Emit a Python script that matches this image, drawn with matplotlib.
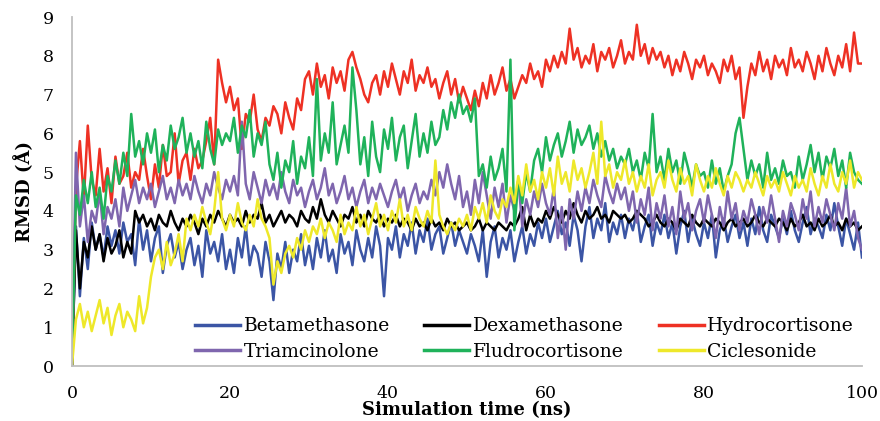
import numpy as np
import matplotlib.pyplot as plt

# simulation time axis (ns), one frame every 0.5 ns
time_ns = np.arange(0, 100.5, 0.5)

betamethasone = [
    0, 3.6, 1.8, 3.3, 2.5, 3.7, 3.0, 3.4, 2.8, 3.6,
    3.1, 3.5, 2.9, 3.7, 3.2, 3.4, 2.6, 3.8, 3.0, 3.5,
    2.7, 3.3, 3.6, 2.4, 3.1, 3.4, 2.8, 3.2, 2.5, 3.0,
    3.3, 2.6, 3.1, 2.3, 3.5, 2.9, 3.2, 2.7, 3.4, 2.5,
    3.0, 2.4, 3.3, 2.8, 3.6, 2.6, 3.1, 2.9, 2.3, 3.2,
    2.7, 1.7, 2.9, 2.5, 3.2, 2.4, 3.0, 2.7, 3.4, 2.6,
    3.1, 2.5, 3.3, 2.8, 3.5, 2.7, 3.0, 2.4, 3.4, 2.9,
    3.2, 2.6, 3.5, 3.0, 2.7, 3.3, 2.8, 3.6, 3.1, 1.8,
    3.3, 3.0, 3.6, 2.8, 3.4, 3.1, 3.7, 2.9, 3.5, 3.2,
    3.8, 3.0, 3.4, 3.6, 2.9, 3.3, 3.7, 3.1, 3.5, 3.2,
    2.9, 3.4, 3.1, 2.7, 3.5, 2.3, 3.2, 3.6, 2.8, 3.3,
    3.0, 3.5, 2.7, 3.2, 3.6, 2.9, 3.4, 3.1, 3.7, 3.3,
    3.8, 3.2, 3.6, 4.0, 3.4, 3.7, 3.1, 3.9, 3.5, 2.7,
    3.6, 4.1, 3.3, 3.8, 3.5, 4.2, 3.2, 3.7, 3.4, 3.9,
    3.3, 3.8, 3.5, 4.0, 3.2, 3.6, 3.9, 3.1, 3.7, 3.4,
    3.9, 3.3, 3.7, 2.9, 3.6, 4.0, 3.2, 3.8, 3.4, 3.1,
    3.7, 3.3, 3.9, 2.8, 3.5, 3.8, 3.2, 3.6, 3.9, 3.3,
    3.7, 3.1, 3.8, 3.4, 4.1, 3.5, 3.2, 3.9, 3.6, 3.3,
    3.8, 3.4, 4.0, 3.5, 3.2, 3.7, 4.1, 3.4, 3.8, 3.6,
    3.3, 3.9, 3.5, 4.2, 3.6, 3.1, 3.8, 3.4, 3.0, 3.7,
    2.8,
]

dexamethasone = [
    0, 3.5, 2.0, 3.2, 2.8, 3.6, 3.0, 3.4, 2.7, 3.3,
    2.9, 3.1, 3.5, 2.8, 3.2, 2.9, 4.0, 3.7, 3.9, 3.6,
    3.8, 3.5, 3.9, 3.7, 3.6, 4.0, 3.7, 3.5, 3.8, 3.6,
    3.9, 3.7, 3.4, 3.8, 3.6, 3.9, 3.7, 4.0, 3.8, 3.6,
    3.9, 3.7, 3.8, 3.6, 4.0, 3.7, 3.9, 3.8, 4.2, 3.7,
    3.9, 3.6, 3.8, 4.0, 3.7, 3.9, 3.8, 3.6, 4.0, 3.8,
    3.7, 4.1, 3.8, 4.3, 3.9, 3.7, 4.0, 3.8, 3.6, 3.9,
    3.8, 4.1, 3.7, 3.9, 3.6, 4.0, 3.8, 3.7, 3.9, 3.6,
    3.8, 3.7, 3.9, 3.6, 3.8, 3.7, 3.5, 3.8, 3.6, 3.7,
    3.5, 3.8, 3.6, 3.7, 3.5, 3.8, 3.6, 3.7, 3.5, 3.6,
    3.7, 3.5, 3.6, 3.8, 3.5, 3.7, 3.6, 3.5, 3.7, 3.6,
    3.5, 3.7, 3.6, 3.8, 4.1, 3.5, 3.9, 3.6, 3.8, 3.7,
    4.0, 3.8, 4.1, 3.9, 3.7, 4.0, 3.8, 4.2, 3.9, 3.7,
    4.0, 3.8, 3.9, 4.1, 3.8, 3.9, 3.7, 4.0, 3.9, 3.8,
    3.9, 3.7, 3.8, 4.0, 3.9, 3.8, 3.6, 3.7, 3.9, 3.7,
    3.6, 3.8, 3.7, 3.5, 3.8, 3.7, 3.6, 3.9, 3.7, 3.6,
    3.8, 3.7, 3.6, 3.8, 3.7, 3.5, 3.7, 3.8, 3.6, 3.7,
    3.8, 3.6, 3.7, 3.9, 3.7, 3.6, 3.8, 3.7, 3.6, 3.8,
    3.7, 3.5, 3.8, 3.6, 3.7, 3.9, 3.6, 3.7, 3.5, 3.8,
    3.6, 3.7, 3.9, 3.6, 3.7, 3.5, 3.8, 3.6, 3.7, 3.5,
    3.6,
]

hydrocortisone = [
    0, 4.6, 5.8, 4.3, 6.2, 4.8, 4.4, 5.6, 4.5, 5.1,
    4.2, 5.4, 4.7, 4.9, 5.5, 4.6, 5.0, 4.8, 5.6, 4.9,
    4.3, 5.2, 4.6, 5.7, 4.9, 5.0, 6.0, 4.7, 5.3, 5.5,
    4.8, 5.6, 5.1, 5.3, 5.8, 6.4, 5.2, 7.9, 7.3, 6.8,
    7.2, 6.6, 6.9, 5.6, 6.5, 6.3, 7.0, 6.1, 5.8, 6.4,
    6.2, 6.7, 6.5, 6.0, 6.8, 6.4, 6.1, 6.9, 6.6, 7.4,
    7.6, 7.0, 7.8, 7.2, 7.5, 6.9, 7.7, 7.3, 7.6, 7.1,
    7.9, 8.1, 7.7, 7.4, 7.0, 6.8, 7.3, 7.5, 7.0, 7.6,
    7.2, 7.8, 7.4, 7.0, 7.6, 7.3, 7.9, 7.1, 7.5, 7.3,
    7.7, 7.2, 7.4, 6.9, 7.3, 7.6, 7.0, 7.4, 6.8, 7.2,
    6.9, 6.6, 7.1, 6.7, 7.3, 6.9, 7.5, 7.0, 7.3, 7.7,
    7.1, 7.4, 6.9, 7.2, 7.5, 7.3, 7.8, 7.4, 7.6, 7.2,
    7.9, 7.6, 8.0, 7.7, 8.1, 7.8, 8.7, 7.9, 8.2, 7.7,
    8.0, 7.8, 8.3, 7.6, 8.1, 7.9, 8.2, 7.7, 8.0, 8.4,
    7.8, 8.1, 7.9, 8.8, 8.0, 8.3, 7.8, 8.2, 7.9, 8.1,
    7.7, 8.0, 7.5, 7.9, 7.6, 8.1, 7.8, 7.4, 7.9, 7.7,
    8.0, 7.5, 7.8, 7.6, 7.3, 7.9, 7.6, 8.0, 7.4, 7.7,
    6.4, 7.2, 7.8, 7.5, 8.1, 7.6, 7.9, 7.4, 8.0, 7.7,
    7.9, 7.5, 8.2, 7.7, 7.9, 7.6, 8.1, 7.8, 7.4, 8.0,
    7.6, 8.2, 7.8, 7.5, 8.0, 7.7, 8.3, 7.6, 8.6, 7.8,
    7.8,
]

triamcinolone = [
    0, 5.5, 3.6, 4.4, 3.2, 4.0, 3.7, 4.5, 3.4, 4.1,
    3.8, 4.3, 3.6, 4.6, 4.0, 4.4, 4.8, 4.2, 4.6, 4.3,
    4.7, 4.1, 4.5, 4.9, 4.3, 4.6, 4.2, 4.8, 4.4, 4.7,
    4.3, 4.9, 4.5, 4.2, 4.7, 4.4, 5.0, 4.6, 4.3, 4.8,
    4.5, 4.9, 4.4, 6.3, 4.7, 4.3, 5.0, 4.6, 4.2, 4.8,
    4.4, 4.7, 4.3, 5.0, 4.5, 4.2, 4.8, 4.4, 4.6, 4.1,
    4.5, 4.8, 4.3, 4.6, 5.1, 4.4, 4.7, 4.2, 4.5, 4.9,
    4.3, 4.6, 4.1, 4.5, 4.8, 4.2, 4.6, 4.3, 4.7, 4.4,
    4.1, 4.5, 4.8, 4.3, 4.6, 4.0, 4.4, 4.7, 4.2, 4.5,
    4.3, 4.8, 4.4, 5.0, 4.6, 5.2, 4.7, 4.3, 4.9, 4.1,
    4.5, 3.9, 4.8, 4.2, 5.0, 4.4, 3.8, 4.6, 4.1, 4.7,
    3.7, 4.4, 4.0, 4.8, 3.6, 4.3, 3.9, 4.5, 4.1, 4.7,
    4.2, 3.9, 4.6, 3.3, 4.1, 3.0, 4.3, 3.8, 4.5, 4.0,
    4.6, 4.2, 4.8, 4.4, 4.1, 4.9, 4.5, 4.2, 4.7, 4.3,
    4.6, 4.0, 4.5, 3.7, 4.3, 3.9, 4.6, 3.5, 4.2, 3.8,
    4.4, 3.6, 4.1, 3.4, 4.5, 3.8, 4.2, 3.5, 4.0, 4.3,
    3.7, 4.4, 3.9, 3.3, 4.1, 3.6, 4.5, 3.8, 4.2, 3.5,
    4.0, 3.7, 4.3, 3.9, 3.4, 4.1, 3.7, 4.4, 3.8, 3.2,
    4.0, 3.6, 4.2, 3.9, 3.5, 4.3, 3.8, 4.5, 3.6, 4.1,
    3.7, 4.3, 3.9, 3.5, 4.2, 3.8, 4.6, 3.6, 4.0, 3.3,
    3.0,
]

fludrocortisone = [
    0, 4.4, 3.9, 4.8, 4.2, 5.0, 4.1, 4.6, 3.8, 4.9,
    4.5, 5.3, 4.7, 5.5, 4.9, 6.5, 5.4, 5.8, 5.2, 6.0,
    5.5, 6.1, 5.0, 5.7, 5.3, 6.2, 5.6, 5.9, 6.4, 5.5,
    6.0, 5.4, 5.8, 5.1, 6.3, 5.6, 5.2, 6.1, 5.7, 6.0,
    5.8, 6.4, 5.5, 6.2, 5.9, 6.6, 5.4, 6.0, 5.7, 6.3,
    5.2, 4.8, 5.5, 4.6, 5.3, 5.0, 5.8, 4.7, 5.4, 5.1,
    5.9, 4.9, 7.4, 5.3, 6.0, 5.5, 6.8, 5.2, 5.7, 6.2,
    5.5, 7.7, 6.6, 5.2, 5.9, 4.9, 6.3, 5.4, 5.0, 6.1,
    5.6, 6.4, 5.3, 5.9, 6.2, 5.1, 5.8, 6.5, 5.4, 6.0,
    5.5, 6.3, 5.7, 5.9, 6.6, 6.1, 6.8, 6.4, 7.0, 6.5,
    6.7, 6.3, 6.9, 4.9, 5.2, 4.6, 5.4, 4.8, 5.1, 5.6,
    4.5, 7.9, 3.5, 4.8, 4.2, 5.0, 4.5, 5.3, 5.6, 5.0,
    5.9, 5.3, 5.7, 6.0, 5.4, 5.8, 6.3, 5.5, 6.1, 5.7,
    5.9, 6.2, 5.6, 6.0, 5.4, 5.8, 5.3, 5.6, 5.1, 5.4,
    5.2, 5.6, 5.0, 5.3, 4.8, 5.5, 5.1, 6.5, 5.0, 5.4,
    4.8, 5.6, 5.0, 5.3, 4.7, 5.5, 5.1, 4.6, 5.2, 4.9,
    5.0, 4.6, 5.3, 4.7, 5.1, 4.5, 4.9, 5.2, 6.0, 6.4,
    5.6, 4.8, 5.3, 4.9, 5.2, 4.6, 5.5, 4.8, 5.1, 4.7,
    5.3, 4.9, 5.0, 4.6, 5.4, 4.8, 5.2, 5.7, 5.0, 5.5,
    4.8, 5.4, 5.1, 5.6, 4.9, 5.3, 4.6, 5.5, 5.0, 4.8,
    4.7,
]

ciclesonide = [
    0, 1.2, 1.6, 1.0, 1.4, 0.9, 1.3, 1.7, 1.1, 1.5,
    0.8, 1.3, 1.6, 1.0, 1.4, 1.2, 0.9, 1.8, 1.1, 1.5,
    2.3, 2.8, 3.0, 2.5, 3.2, 2.6, 2.9, 3.4, 2.7, 3.8,
    3.5, 3.9, 3.6, 4.1, 3.7, 3.4, 4.0, 5.0, 3.8, 3.5,
    3.9, 3.6, 4.2, 3.7, 3.5, 3.9, 3.6, 4.3, 3.8, 3.6,
    3.3, 2.1, 2.7, 2.4, 2.9, 3.1, 2.8, 3.3, 3.0, 3.5,
    3.2, 3.6, 3.4, 3.8, 3.3, 3.7, 3.5, 3.2, 3.9, 3.4,
    3.7, 3.5, 4.1, 3.6, 3.9, 3.4, 3.8, 4.2, 3.6, 3.9,
    3.5, 4.0, 3.7, 4.3, 3.6, 3.9, 3.5, 4.1, 3.8, 3.6,
    4.0, 3.7, 5.3, 3.9, 3.6, 3.4, 3.7, 3.5, 3.8, 3.6,
    3.9, 3.5, 4.1, 3.8, 4.2, 3.7, 4.4, 4.0, 3.8, 4.3,
    4.1, 4.6, 4.2, 4.9, 4.4, 5.2, 4.5, 4.8, 4.3, 5.0,
    4.6, 5.1, 4.4, 5.4, 4.7, 5.0, 4.5, 5.3, 4.8, 5.1,
    4.6, 5.0, 5.5, 4.7, 6.3, 4.9, 5.2, 4.6, 5.0, 4.8,
    5.3, 4.7, 5.0, 4.5, 4.9, 4.6, 5.2, 4.4, 4.8, 5.0,
    4.6, 5.3, 4.8, 4.5, 5.1, 4.7, 4.9, 4.4, 5.2, 4.8,
    4.5, 4.9, 4.6, 5.1, 4.7, 4.4, 4.9, 4.6, 5.0, 4.8,
    4.5, 4.8, 4.6, 5.0, 4.7, 4.4, 4.9, 4.6, 4.8, 4.5,
    5.0, 4.7, 4.4, 4.9, 4.6, 4.8, 4.5, 5.1, 4.7, 4.4,
    4.9, 4.6, 5.2, 4.7, 4.5, 5.0, 4.7, 5.3, 4.6, 5.0,
    4.8,
]

series = [
    ("Betamethasone", betamethasone, "#3B55A5"),
    ("Dexamethasone", dexamethasone, "#000000"),
    ("Hydrocortisone", hydrocortisone, "#EE3124"),
    ("Triamcinolone", triamcinolone, "#7F66AE"),
    ("Fludrocortisone", fludrocortisone, "#1FB25A"),
    ("Ciclesonide", ciclesonide, "#EEE82A"),
]

plt.rcParams['font.family'] = ['DejaVu Serif']

fig = plt.figure(figsize=(8.8, 4.21), dpi=100)
ax = fig.add_axes([0.0818, 0.1306, 0.8977, 0.829])

lines = {}
for name, vals, col in series:
    lines[name], = ax.plot(time_ns, vals, color=col, lw=1.8, label=name)

ax.set_xlim(0, 100)
ax.set_ylim(0, 9)
ax.set_xticks([0, 20, 40, 60, 80, 100])
ax.set_yticks(range(0, 10))

for s in ['top', 'right']:
    ax.spines[s].set_visible(False)
for s in ['left', 'bottom']:
    ax.spines[s].set_color('#BFBFBF')
    ax.spines[s].set_linewidth(1.3)

ax.tick_params(axis='x', length=0, pad=14, labelsize=12.5)
ax.tick_params(axis='y', length=0, pad=13, labelsize=12.5)

ax.set_xlabel("Simulation time (ns)", fontsize=13, fontweight='bold', labelpad=-1)
ax.set_ylabel("RMSD (Å)", fontsize=13, fontweight='bold', labelpad=6)

# legend in rows: matplotlib fills columns first, so reorder
order = ["Betamethasone", "Triamcinolone", "Dexamethasone",
         "Fludrocortisone", "Hydrocortisone", "Ciclesonide"]
leg = ax.legend([lines[n] for n in order], order, ncol=3, frameon=False,
                fontsize=13.5, loc='center',
                bbox_to_anchor=(0.596, 0.195), bbox_transform=fig.transFigure,
                handlelength=2.4, handletextpad=0.2, columnspacing=1.85,
                labelspacing=0.4, borderpad=0.2)
for h in leg.get_lines():
    h.set_linewidth(2.5)

fig.savefig("out.png", dpi=100)
